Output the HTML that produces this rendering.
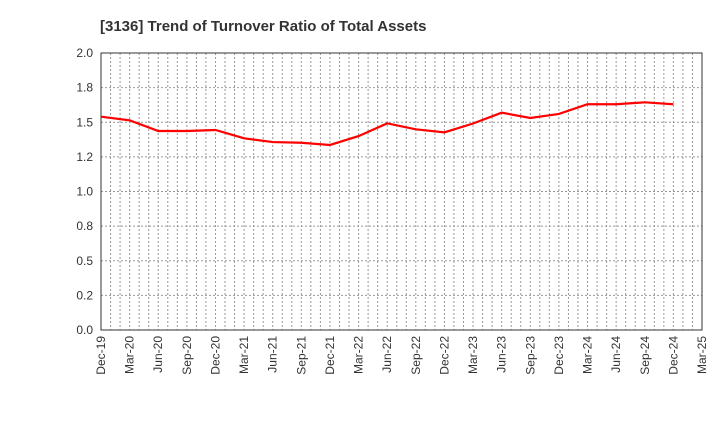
<!DOCTYPE html>
<html><head><meta charset="utf-8"><style>
body{margin:0;background:#fff;font-family:"Liberation Sans",sans-serif}
</style></head><body>
<svg id="chart" width="720" height="440">
<text x="100" y="31" font-size="15" font-weight="bold" fill="#333">[3136]  Trend of Turnover Ratio of Total Assets</text>
<g id="grid"></g><g id="axes"></g><g id="series"></g>
</svg>
<script>
const categories=["Dec-19","Mar-20","Jun-20","Sep-20","Dec-20","Mar-21","Jun-21","Sep-21","Dec-21","Mar-22","Jun-22","Sep-22","Dec-22","Mar-23","Jun-23","Sep-23","Dec-23","Mar-24","Jun-24","Sep-24","Dec-24","Mar-25"];
const values=[1.54,1.514,1.437,1.437,1.444,1.384,1.357,1.352,1.336,1.40,1.492,1.449,1.427,1.491,1.569,1.531,1.56,1.63,1.63,1.644,1.63];
const yTicks=[0,0.25,0.5,0.75,1,1.25,1.5,1.75,2];
const yLabels=["0.0","0.2","0.5","0.8","1.0","1.2","1.5","1.8","2.0"];
const L=101,R=702,T=53,B=330,NS="http://www.w3.org/2000/svg";
const x=i=>L+(R-L)*i/(categories.length-1);
const y=v=>B-(B-T)*v/2;
function mk(t,a,p){const e=document.createElementNS(NS,t);for(const k in a)e.setAttribute(k,a[k]);p.appendChild(e);return e;}
const grid=document.getElementById('grid'),axes=document.getElementById('axes'),ser=document.getElementById('series');
const months=(categories.length-1)*3;
for(let m=1;m<months;m++){const xx=L+(R-L)*m/months;
const g=mk('line',{x1:xx,x2:xx,y1:T,y2:B,stroke:'#999','stroke-dasharray':'2,2','stroke-width':1},grid);

}
yTicks.forEach((v,i)=>{
const g=mk('line',{x1:L,x2:R,y1:y(v),y2:y(v),stroke:'#999','stroke-dasharray':'2,2','stroke-width':1},grid);


const t=mk('text',{x:L-8,y:y(v)+4,'text-anchor':'end','font-size':12,fill:'#333'},axes);t.textContent=yLabels[i];

});
const fr=mk('rect',{x:L,y:T,width:R-L,height:B-T,fill:'none',stroke:'#333','stroke-width':1},axes);


categories.forEach((c,i)=>{
const t=mk('text',{transform:`translate(${x(i)+4},${B+6}) rotate(-90)`,'text-anchor':'end','font-size':12,fill:'#333'},axes);t.textContent=c;

});
const pl=mk('polyline',{points:values.map((v,i)=>x(i)+','+y(v)).join(' '),fill:'none',stroke:'#ff0000','stroke-width':2.2},ser);


</script>
</body></html>
